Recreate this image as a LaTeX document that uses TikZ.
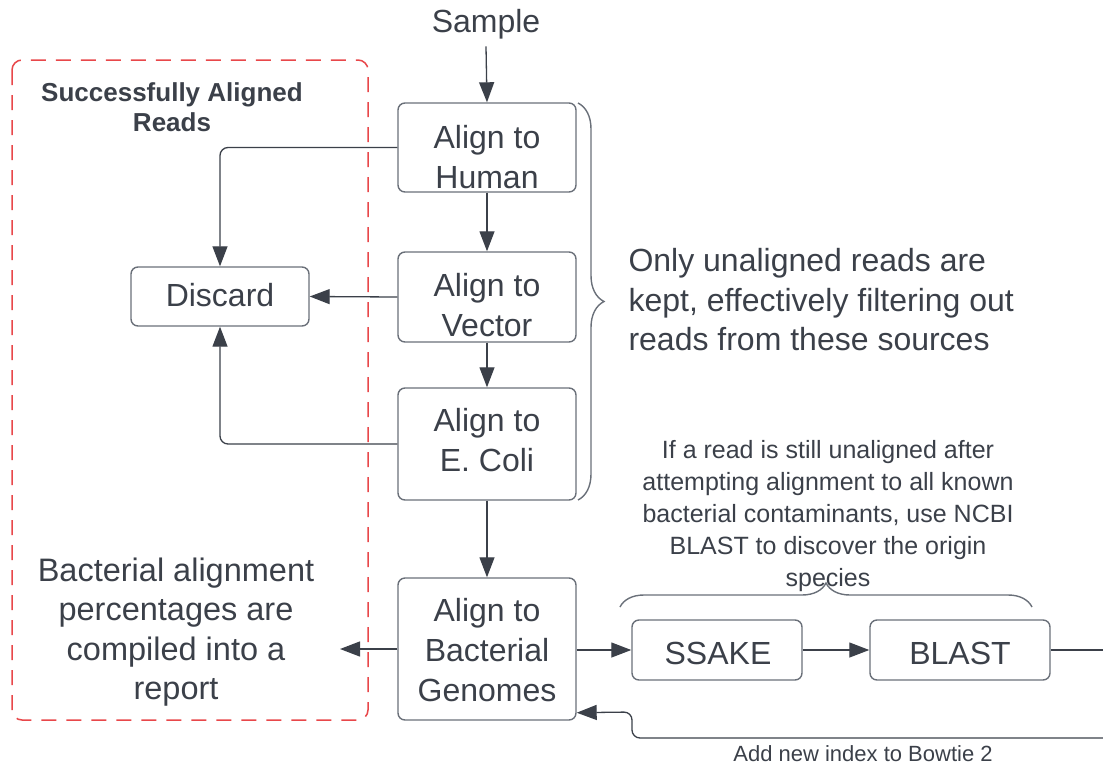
\documentclass[tikz,border=0pt]{standalone}
\usepackage{fontspec}
\setmainfont{Liberation Sans}
\usetikzlibrary{arrows.meta,decorations.pathreplacing,calc}
\definecolor{ink}{HTML}{3B4049}
\definecolor{boxline}{HTML}{6A7079}
\definecolor{dashred}{HTML}{E8474A}
\begin{document}
\begin{tikzpicture}[x=1pt,y=-1pt,
  every node/.style={text=ink},
  stepbox/.style={draw=boxline, line width=1.4pt, rounded corners=7pt, inner sep=0pt},
  boxtext/.style={align=center, inner sep=0pt, font=\fontsize{32}{40}\selectfont},
  flow/.style={draw=ink, line width=1.3pt, -{Triangle[length=20pt,width=15pt]}},
  link/.style={draw=ink, line width=1.3pt},
  bigtext/.style={font=\fontsize{32}{39.5}\selectfont},
  smalltext/.style={font=\fontsize{25}{32}\selectfont, align=center},
  curly/.style={draw=boxline, line width=1.4pt, decorate}
]
\useasboundingbox (0,0) rectangle (1103,766);

% group of successfully aligned reads
\draw[dashred, line width=1.5pt, dash pattern=on 15pt off 10pt, rounded corners=10pt]
  (12,60) rectangle (368,720);
\node[font=\fontsize{26}{30}\selectfont\bfseries, align=center] (grouptitle) at (172,107)
  {Successfully Aligned\\Reads};

% pipeline step boxes
\node[bigtext] (sample) at (486,24) {Sample};
\node[stepbox, minimum width=178pt, minimum height=89pt] (human) at (487,147.5) {};
\node[stepbox, minimum width=178pt, minimum height=90pt] (vector) at (487,297) {};
\node[stepbox, minimum width=178pt, minimum height=112pt] (ecoli) at (487,444) {};
\node[stepbox, minimum width=178pt, minimum height=142pt] (bact) at (487,649) {};
\node[stepbox, minimum width=178pt, minimum height=59pt] (discard) at (220,296.5) {};
\node[stepbox, minimum width=170pt, minimum height=60pt] (ssake) at (717,650) {};
\node[stepbox, minimum width=180pt, minimum height=60pt] (blast) at (960,650) {};

% step labels
\node[boxtext] (humanlabel) at (487,157) {Align to\\Human};
\node[boxtext] (vectorlabel) at (487,305.5) {Align to\\Vector};
\node[boxtext] (ecolilabel) at (487,440.5) {Align to\\E. Coli};
\node[boxtext] (bactlabel) at (487,650.5) {Align to\\Bacterial\\Genomes};
\node[boxtext] (discardlabel) at (220,295) {Discard};
\node[boxtext] (ssakelabel) at (718,653) {SSAKE};
\node[boxtext] (blastlabel) at (960,653) {BLAST};

% free ends of connectors
\coordinate (reportend) at (340,649);
\coordinate (edgeout) at (1103,650);
\coordinate (edgeback) at (1103,738);

% annotations
\node[bigtext, align=left, anchor=west] (keepnote) at (625,300)
  {Only unaligned reads are\\kept, effectively filtering out\\reads from these sources};
\node[smalltext] (blastnote) at (828,516)
  {If a read is still unaligned after\\attempting alignment to all known\\bacterial contaminants, use NCBI\\BLAST to discover the origin\\species};
\node[font=\fontsize{22}{26}\selectfont] (bowtie) at (863,754) {Add new index to Bowtie 2};
\node[font=\fontsize{32.5}{39.5}\selectfont, align=center] (report) at (176,632)
  {Bacterial alignment\\percentages are\\compiled into a\\report};

% main flow
\draw[flow] ([yshift=-4pt]sample.south) -- (human.north);
\draw[flow] (human.south) -- (vector.north);
\draw[flow] (vector.south) -- (ecoli.north);
\draw[flow] (ecoli.south) -- (bact.north);

% discarded reads
\draw[flow, rounded corners=8pt] (human.west) -| (discard.north);
\draw[flow] (vector.west) -- (discard.east);
\draw[flow, rounded corners=8pt] (ecoli.west) -| (discard.south);

% bacterial branch
\draw[flow] (bact.west) -- (reportend);
\draw[flow] (bact.east |- ssake.west) -- (ssake.west);
\draw[flow] (ssake.east) -- (blast.west);
\draw[link] (blast.east) -- (edgeout);
\draw[flow, rounded corners=8pt] (edgeback) -- (632,738) -- (632,712) -- ([yshift=8pt]bact.south east);

% braces
\draw[curly, decoration={brace, amplitude=26pt}] (578,103) -- (578,500);
\draw[curly, decoration={brace, amplitude=24pt}] (620,607) -- (1032,607);
\end{tikzpicture}
\end{document}
